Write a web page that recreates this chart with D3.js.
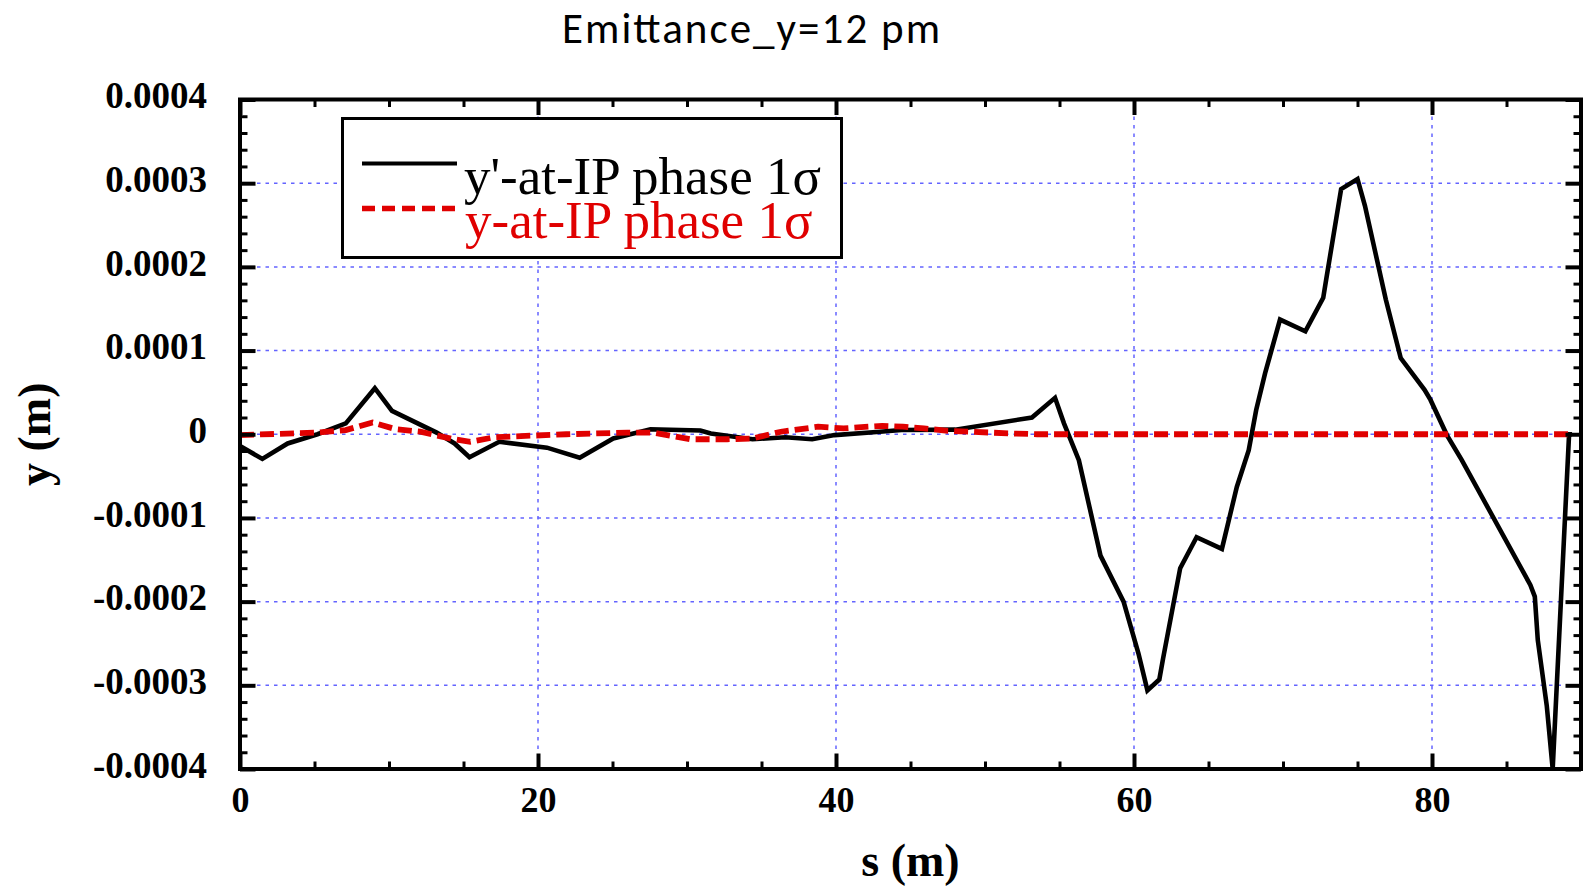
<!DOCTYPE html>
<html>
<head>
<meta charset="utf-8">
<script src="https://cdn.jsdelivr.net/npm/d3@7"></script>
<style>
  body { margin: 0; background: #fff; }
  svg { display: block; }
</style>
</head>
<body>
<script>
// Text
const chartTitle = "Emittance_y=12 pm";
const xAxisTitle = "s (m)";
const yAxisTitle = "y (m)";
const seriesNames = ["y'-at-IP phase 1σ", "y-at-IP phase 1σ"];

// Axis ticks
const xTickValues = [0, 20, 40, 60, 80];
const xTickLabels = ["0", "20", "40", "60", "80"];
const yTickValues = [-0.0004, -0.0003, -0.0002, -0.0001, 0, 0.0001, 0.0002, 0.0003, 0.0004];
const yTickLabels = ["-0.0004", "-0.0003", "-0.0002", "-0.0001", "0", "0.0001", "0.0002", "0.0003", "0.0004"];

// Orbit for the y'-at-IP phase 1σ kick: s (m) and y (m)
const sAngle = [0, 1.5, 3.2, 5.2, 7.1, 9.05, 10.2, 13.2, 14.4, 15.4,
                17.4, 20.6, 22.8, 25.05, 27.55, 30.9, 31.6, 34.4, 36.6, 38.4,
                39.9, 42.95, 44.4, 48.0, 53.15, 54.7, 55.3, 56.3, 57.75, 59.3,
                60.3, 60.9, 61.7, 61.95, 63.1, 64.2, 65.9, 66.9, 67.7, 68.2,
                68.8, 69.8, 71.5, 72.7, 72.9, 73.9, 75.0, 75.5, 76.9, 77.9,
                79.5, 79.9, 81.0, 82.0, 86.6, 86.9, 87.1, 87.7, 88.1, 89.2, 89.4];
const yAngle = [-1.4e-5, -2.95e-5, -1.1e-5, 0, 1.3e-5, 5.5e-5, 2.8e-5, 0.2e-5, -1.1e-5, -2.75e-5,
                -0.9e-5, -1.6e-5, -2.8e-5, -0.5e-5, 0.6e-5, 0.45e-5, 0.1e-5, -0.6e-5, -0.36e-5, -0.6e-5,
                -0.1e-5, 0.3e-5, 0.5e-5, 0.55e-5, 2.0e-5, 4.35e-5, 1.3e-5, -3.1e-5, -14.5e-5, -20.0e-5,
                -26.2e-5, -30.6e-5, -29.3e-5, -26.8e-5, -16.0e-5, -12.3e-5, -13.7e-5, -6.3e-5, -1.9e-5, 2.9e-5,
                7.3e-5, 13.7e-5, 12.3e-5, 16.3e-5, 18.5e-5, 29.3e-5, 30.5e-5, 27.3e-5, 16.1e-5, 9.1e-5,
                5.3e-5, 4.1e-5, -0.1e-5, -3.1e-5, -18.0e-5, -19.4e-5, -24.6e-5, -32.4e-5, -40.0e-5, 0, 0];

// Orbit for the y-at-IP phase 1σ offset: s (m) and y (m)
const sOffset = [0, 5.2, 7.1, 8.9, 10.45, 12.1, 14.35, 15.45, 17.1, 21.9,
                 26.0, 27.7, 30.2, 32.7, 34.4, 36.3, 38.8, 40.5, 41.7, 43.1,
                 44.5, 45.9, 47.5, 48.9, 51.7, 53.5, 89.4];
const yOffset = [-0.1e-5, 0.2e-5, 0.5e-5, 1.4e-5, 0.6e-5, 0.3e-5, -0.6e-5, -0.9e-5, -0.35e-5, 0,
                 0.2e-5, 0.2e-5, -0.6e-5, -0.6e-5, -0.5e-5, 0.3e-5, 0.9e-5, 0.7e-5, 0.85e-5, 1.0e-5,
                 0.9e-5, 0.7e-5, 0.4e-5, 0.3e-5, 0.1e-5, 0, 0];

const W = 1583, H = 887;
const plot = { left: 240, right: 1581, top: 99.5, bottom: 769 };
const serif = "'Liberation Serif', 'Times New Roman', serif";

const x = d3.scaleLinear().domain([0, 90]).range([plot.left, plot.right]);
const y = d3.scaleLinear().domain([-0.0004, 0.0004]).range([plot.bottom, plot.top]);

const svg = d3.select("body").append("svg").attr("width", W).attr("height", H);

// Title
svg.append("text")
  .attr("x", 751).attr("y", 42.5)
  .attr("text-anchor", "middle")
  .attr("textLength", 378).attr("lengthAdjust", "spacing")
  .style("font-family", "Carlito, Lato, 'Open Sans', sans-serif")
  .style("font-size", "43px")
  .attr("fill", "#000")
  .text(chartTitle);

// Dotted grid at the labelled ticks
const grid = svg.append("g").attr("stroke", "#4a4aff").attr("stroke-width", 1.5)
  .attr("stroke-dasharray", "3.5,5").attr("opacity", 0.85);
grid.selectAll("line.gx").data(xTickValues.filter(d => d > 0)).join("line")
  .attr("class", "gx")
  .attr("x1", d => x(d)).attr("x2", d => x(d))
  .attr("y1", plot.top).attr("y2", plot.bottom);
grid.selectAll("line.gy").data(yTickValues.filter(d => d > -0.0004 && d < 0.0004)).join("line")
  .attr("class", "gy")
  .attr("x1", plot.left).attr("x2", plot.right)
  .attr("y1", d => y(d)).attr("y2", d => y(d));

// Orbits
const line = d3.line().x(d => x(d[0])).y(d => y(d[1]));
const angleData = sAngle.map((s, i) => [s, yAngle[i]]);
const offsetData = sOffset.map((s, i) => [s, yOffset[i]]);

svg.append("path").datum(angleData)
  .attr("d", line)
  .attr("fill", "none").attr("stroke", "#000").attr("stroke-width", 4.6)
  .attr("stroke-linejoin", "miter").attr("stroke-miterlimit", 2);

svg.append("path").datum(offsetData)
  .attr("d", line)
  .attr("fill", "none").attr("stroke", "#e00000").attr("stroke-width", 5.8)
  .attr("stroke-dasharray", "14,6");

// Axes: ticks point inward on all four sides
const majorLen = -15.5, minorLen = -7.5;
function styleAxis(g, width) {
  g.select(".domain").remove();
  g.selectAll(".tick line").attr("stroke", "#000").attr("stroke-width", width);
}
const xMinor = x.ticks(18).filter(d => !xTickValues.includes(d));
const yMinor = y.ticks(40).filter(d => !yTickValues.some(v => Math.abs(v - d) < 1e-9));

// minor ticks
svg.append("g").attr("transform", `translate(0,${plot.bottom})`)
  .call(d3.axisBottom(x).tickValues(xMinor).tickSize(minorLen).tickFormat(""))
  .call(g => styleAxis(g, 3));
svg.append("g").attr("transform", `translate(0,${plot.top})`)
  .call(d3.axisTop(x).tickValues(xMinor).tickSize(minorLen).tickFormat(""))
  .call(g => styleAxis(g, 3));
svg.append("g").attr("transform", `translate(${plot.left},0)`)
  .call(d3.axisLeft(y).tickValues(yMinor).tickSize(minorLen).tickFormat(""))
  .call(g => styleAxis(g, 3));
svg.append("g").attr("transform", `translate(${plot.right},0)`)
  .call(d3.axisRight(y).tickValues(yMinor).tickSize(minorLen).tickFormat(""))
  .call(g => styleAxis(g, 3));

// major ticks with labels
const xAxis = svg.append("g").attr("transform", `translate(0,${plot.bottom})`)
  .call(d3.axisBottom(x).tickValues(xTickValues).tickSize(majorLen).tickPadding(0)
    .tickFormat((d, i) => xTickLabels[i]))
  .call(g => styleAxis(g, 4));
xAxis.selectAll(".tick text")
  .attr("y", 42.5).attr("dy", 0)
  .attr("fill", "#000")
  .style("font-family", serif).style("font-weight", "bold").style("font-size", "36px");

svg.append("g").attr("transform", `translate(0,${plot.top})`)
  .call(d3.axisTop(x).tickValues(xTickValues).tickSize(majorLen).tickFormat(""))
  .call(g => styleAxis(g, 4));

const yAxis = svg.append("g").attr("transform", `translate(${plot.left},0)`)
  .call(d3.axisLeft(y).tickValues(yTickValues).tickSize(majorLen)
    .tickFormat((d, i) => yTickLabels[i]))
  .call(g => styleAxis(g, 4));
yAxis.selectAll(".tick text")
  .attr("x", -33).attr("dy", "0.22em")
  .attr("fill", "#000")
  .style("font-family", serif).style("font-weight", "bold").style("font-size", "37px");

svg.append("g").attr("transform", `translate(${plot.right},0)`)
  .call(d3.axisRight(y).tickValues(yTickValues).tickSize(majorLen).tickFormat(""))
  .call(g => styleAxis(g, 4));

// Frame
svg.append("rect")
  .attr("x", plot.left).attr("y", plot.top)
  .attr("width", plot.right - plot.left).attr("height", plot.bottom - plot.top)
  .attr("fill", "none").attr("stroke", "#000").attr("stroke-width", 4);

// Axis titles
svg.append("text")
  .attr("x", (plot.left + plot.right) / 2).attr("y", 876)
  .attr("text-anchor", "middle")
  .style("font-family", serif).style("font-weight", "bold").style("font-size", "46px")
  .text(xAxisTitle);
svg.append("text")
  .attr("transform", `translate(50,${(plot.top + plot.bottom) / 2}) rotate(-90)`)
  .attr("text-anchor", "middle")
  .style("font-family", serif).style("font-weight", "bold").style("font-size", "46px")
  .text(yAxisTitle);

// Legend
const legend = svg.append("g");
legend.append("rect")
  .attr("x", 342.5).attr("y", 118.5).attr("width", 499).attr("height", 139)
  .attr("fill", "#fff").attr("stroke", "#000").attr("stroke-width", 3);
legend.append("line")
  .attr("x1", 362).attr("x2", 457).attr("y1", 163.5).attr("y2", 163.5)
  .attr("stroke", "#000").attr("stroke-width", 4);
legend.append("line")
  .attr("x1", 362).attr("x2", 457).attr("y1", 208.5).attr("y2", 208.5)
  .attr("stroke", "#e00000").attr("stroke-width", 5.5).attr("stroke-dasharray", "13,7");
legend.append("text")
  .attr("x", 464).attr("y", 194)
  .style("font-family", serif).style("font-size", "53px")
  .attr("fill", "#000")
  .text(seriesNames[0]);
legend.append("text")
  .attr("x", 465).attr("y", 237.5)
  .style("font-family", serif).style("font-size", "53px")
  .attr("fill", "#e00000")
  .text(seriesNames[1]);
</script>
</body>
</html>
